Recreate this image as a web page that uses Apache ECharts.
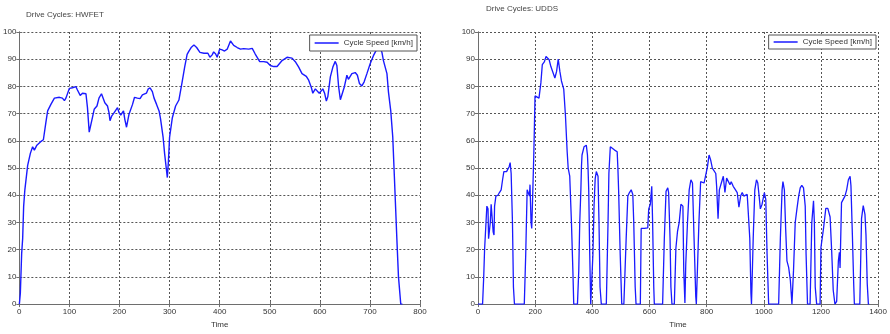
<!DOCTYPE html>
<html>
<head>
<meta charset="utf-8">
<script src="https://cdn.jsdelivr.net/npm/echarts@6.0.0/dist/echarts.min.js"></script>
<style>
  html, body { margin: 0; padding: 0; background: #fff; }
  #chart { width: 890px; height: 334px; }
</style>
</head>
<body>
<div id="chart"></div>
<script>
// HWFET cycle (time s, speed km/h)
const hwfetTime = [0, 2, 4.6, 6.6, 8.6, 11, 16.6, 22, 26.5, 30, 32, 35, 42, 48, 53, 56.5, 63, 70, 73, 80, 86, 90, 93, 100, 106, 113, 116, 121.5, 126, 133, 136, 139.5, 143, 146, 149.4, 155, 159, 164, 167, 170.7, 176, 179, 181, 184.6, 188, 190.6, 196, 199, 202.5, 208, 210.5, 214, 219, 226, 230, 235.7, 241, 245.7, 253.7, 257, 261, 265.6, 269, 274, 279, 282, 287, 290, 295.5, 297.5, 300, 305.5, 312, 318.6, 325, 330, 335, 338.6, 343, 348.6, 354, 360.6, 368.5, 376.5, 380.5, 385, 388, 392, 395, 400, 405, 409.7, 415, 421.6, 428, 435, 441.6, 448, 458, 465, 471, 480, 488, 494.7, 501, 508, 514.6, 524.6, 534.5, 544.5, 551, 557.8, 564.4, 573, 577.7, 583, 586, 591, 594, 598.8, 602, 606, 609.5, 613, 616, 621, 626, 630.8, 634, 637.5, 641, 644, 649, 654, 657, 664, 670.6, 675, 679, 684, 688.5, 694, 700.5, 707, 713.8, 718.5, 724, 727, 734, 737, 741.6, 745.6, 748.8, 753.7, 757, 761.6, 765];
const hwfetSpeed = [0, 4, 18.5, 24, 36, 42, 51, 55.4, 57.8, 56.6, 56, 58.4, 59.6, 60.4, 66.8, 71, 73.4, 75.7, 76, 76, 75.7, 74.8, 75.7, 79.3, 79.5, 79.9, 78.7, 76.7, 77.5, 77.3, 72.2, 63.2, 63.2, 68.6, 71.6, 72.8, 75.7, 77.3, 76.6, 74, 72.8, 70.4, 67.4, 69.2, 70, 69.5, 72.2, 70.4, 69.5, 71, 68, 65, 69.8, 73.4, 76, 75.7, 75.5, 76.9, 77.5, 79, 79.5, 78.1, 75.7, 73.4, 71, 68, 61.4, 55.4, 46.5, 52, 61.4, 68.5, 72.8, 75, 81.6, 87, 91.8, 93, 94.3, 95.2, 94.3, 92.5, 92.2, 92.2, 90.7, 91.6, 92.7, 91.9, 90.7, 93.7, 93.4, 93, 93.7, 96.7, 95.1, 94.3, 93.7, 93.9, 93.7, 94, 91.9, 89.1, 89.1, 88.9, 87.7, 87.3, 87.3, 89.5, 90.7, 90.4, 89.1, 87.1, 84.7, 83.7, 82.3, 79.6, 77.5, 79.1, 78.7, 77.5, 77.3, 79.1, 77.5, 74.6, 76.3, 83.5, 87.1, 89.2, 87.7, 79.9, 75.1, 75.7, 79.9, 84.1, 82.6, 84.7, 85.1, 84.1, 81.1, 80.2, 81.7, 84.7, 88.3, 91.3, 93.7, 95.5, 92.5, 89.5, 84.7, 78, 71, 61.4, 47, 24.4, 10.1, 0, 0];

// UDDS cycle
const uddsTime = [0, 16, 20, 23, 28, 31, 35, 37, 40.6, 43, 46, 50, 53, 56, 58, 62.6, 69.6, 75, 81, 86, 90.5, 95, 100, 104, 109, 112.5, 116, 120.6, 124, 127.6, 162, 167, 172, 176, 180, 182, 185.6, 188, 191, 195, 197, 199.5, 205, 213.4, 220, 225, 232, 238, 243.6, 249, 255, 261, 269, 275, 280.7, 286.5, 292, 300, 306, 312, 315.5, 321, 327, 332, 335, 348, 352.6, 356, 360, 362, 364, 371, 379, 383, 385, 387.4, 391, 394.4, 398, 402, 406, 410, 414, 420, 423.4, 427, 431.5, 449, 455, 458, 463, 468.6, 478, 487, 489.5, 492, 497.6, 503, 510.4, 518.5, 524.3, 530, 536, 541.7, 545, 550, 553, 568, 571, 576.5, 582, 588, 594, 597.4, 603, 608, 611, 615, 617, 646, 652, 658, 664, 667, 672, 675, 678.6, 687, 692.5, 698, 704, 710, 713, 717, 720, 724, 727, 733, 739, 745, 750.5, 756, 762, 764, 768, 773, 779, 785, 791, 797, 803, 807.4, 808.5, 814, 820, 823.6, 832, 835, 840, 844.5, 851.4, 858.4, 864, 870, 876, 881.6, 886, 893, 901, 907, 913, 919, 924.5, 930, 936, 942, 948, 951, 955, 957, 963, 968.6, 974.4, 979, 983.7, 988, 994, 997.6, 1002, 1007, 1011.5, 1017, 1052, 1058, 1064, 1067, 1072, 1076.5, 1081, 1087, 1093, 1098.5, 1104, 1110, 1116, 1122, 1127.5, 1133, 1139, 1145, 1148, 1153, 1162, 1168, 1174, 1177, 1180, 1185, 1197, 1200, 1209, 1217, 1224, 1232, 1237.6, 1243, 1249, 1255, 1261, 1264.6, 1266.9, 1272, 1278, 1284, 1290, 1296, 1302, 1305, 1310, 1314.6, 1317, 1336, 1342, 1348, 1354, 1357.6, 1362, 1366, 1369];
const uddsSpeed = [0, 0, 10, 20, 30, 36, 35, 24, 24, 30, 36.7, 36, 26.6, 25.4, 36, 39.7, 40, 41, 42, 45.7, 48.7, 49.3, 48.7, 49.5, 50.5, 52, 48, 30, 6.3, 0, 0, 18.3, 42, 42.7, 39.7, 43.9, 30, 27.8, 38.5, 54, 63.3, 76.5, 76, 75.7, 81.3, 88, 89, 91, 91.3, 89.8, 87.3, 86.7, 83.1, 85.5, 90, 85.5, 82, 79, 69.3, 56, 50, 47, 30, 12.3, 0, 0, 12.3, 30, 42, 50.5, 54.8, 57.8, 58.4, 54.8, 50, 42, 18.3, 0, 0, 18, 36, 46, 48.7, 47, 30, 6.3, 0, 0, 30, 48, 57.8, 57.2, 56.6, 56, 50, 42, 18.3, 0, 0, 24.2, 39.7, 41, 42, 40.3, 30, 6.3, 0, 0, 27.8, 28.4, 27.8, 27.2, 28, 35, 36.7, 43.3, 30, 6.3, 0, 0, 24.2, 41.5, 42.7, 41, 24.2, 6.3, 0, 0, 20.6, 26.6, 30, 36.7, 37.3, 36, 12.3, 0.4, 14.7, 30, 42, 45.7, 44.5, 24.2, 2.7, 0, 0, 30, 45, 45.7, 44.5, 45, 50.5, 54, 54.8, 53, 50, 49.9, 48, 43.3, 31.4, 42, 44.5, 47, 41, 46.3, 47, 43.9, 45, 43.3, 42, 41, 35.6, 39.7, 41, 39.7, 39.1, 40.3, 39.7, 24.2, 4, 0, 24.2, 42, 45.7, 44.5, 39.7, 35, 36.7, 37.3, 41, 38.5, 18.3, 0, 0, 24.2, 42, 45, 42, 27.8, 15.9, 13.5, 8.7, 0, 12.3, 30, 35, 39.7, 42.7, 43.6, 42.7, 36, 18.3, 0, 0, 30, 38, 30, 6.3, 0, 0, 20.8, 27.8, 35.2, 35.2, 32, 19.4, 5.1, 0, 1, 15.9, 19, 13.3, 37.3, 38.5, 39.7, 42, 45.7, 47, 43.5, 25.4, 7.5, 0, 0, 31.4, 36.2, 33, 25.4, 7.5, 0, 0];

const titles = ['Drive Cycles: HWFET', 'Drive Cycles: UDDS'];
const seriesName = 'Cycle Speed [km/h]';
const xMax = [800, 1400];
const xStep = [100, 200];

const FONT = 'Liberation Sans, Arial, sans-serif';
const axisColor = '#6e6e6e';
const labelStyle = { fontSize: 8, color: '#333', fontFamily: FONT };

function mainX(i) {
  return {
    type: 'value', gridIndex: i, min: 0, max: xMax[i], interval: xStep[i],
    name: 'Time', nameLocation: 'middle', nameGap: 13,
    nameTextStyle: labelStyle,
    axisLine: { lineStyle: { color: axisColor } },
    axisTick: { inside: true, length: 3, lineStyle: { color: axisColor } },
    axisLabel: Object.assign({ margin: 4, formatter: (v) => String(v) }, labelStyle),
    splitLine: { show: true, lineStyle: { color: '#555', type: [2, 2], width: 1 } }
  }
}
function mainY(i) {
  return {
    type: 'value', gridIndex: i, min: 0, max: 100, interval: 10,
    axisLine: { show: true, lineStyle: { color: axisColor } },
    axisTick: { show: true, inside: true, length: 3, lineStyle: { color: axisColor } },
    axisLabel: Object.assign({ margin: 3 }, labelStyle),
    splitLine: { show: true, lineStyle: { color: '#555', type: [2, 2], width: 1 } }
  }
}
// mirrored box axes (ticks only) like a matlab figure
function boxX(i) {
  return {
    type: 'value', gridIndex: i, position: 'top', min: 0, max: xMax[i], interval: xStep[i],
    axisLine: { lineStyle: { color: axisColor } },
    axisTick: { inside: true, length: 3, lineStyle: { color: axisColor } },
    axisLabel: { show: false }, splitLine: { show: false }
  }
}
function boxY(i) {
  return {
    type: 'value', gridIndex: i, position: 'right', min: 0, max: 100, interval: 10,
    axisLine: { show: true, lineStyle: { color: axisColor } },
    axisTick: { show: true, inside: true, length: 3, lineStyle: { color: axisColor } },
    axisLabel: { show: false }, splitLine: { show: false }
  }
}

const chart = echarts.init(document.getElementById('chart'))

chart.setOption({
  backgroundColor: '#fff',
  animation: false,
  title: [
    { text: titles[0], left: 21, top: 6, textStyle: { fontSize: 8, fontWeight: 'normal', color: '#444', fontFamily: FONT } },
    { text: titles[1], left: 481, top: 0, textStyle: { fontSize: 8, fontWeight: 'normal', color: '#444', fontFamily: FONT } }
  ],
  legend: [
    {
      data: [seriesName], right: 473, top: 35,
      icon: 'rect', itemWidth: 24, itemHeight: 1.5, itemGap: 0,
      padding: [4, 4, 4, 5], borderColor: '#555', borderWidth: 1, borderRadius: 0,
      backgroundColor: '#fff', textStyle: labelStyle, selectedMode: false
    },
    {
      data: [seriesName], right: 14, top: 35,
      icon: 'rect', itemWidth: 24, itemHeight: 1.5, itemGap: 0,
      padding: [3, 4, 3, 5], borderColor: '#555', borderWidth: 1, borderRadius: 0,
      backgroundColor: '#fff', textStyle: labelStyle, selectedMode: false
    }
  ],
  grid: [
    { left: 18, top: 32, width: 402, height: 280 },
    { left: 478, top: 32, width: 402, height: 279 }
  ],
  xAxis: [mainX(0), mainX(1), boxX(0), boxX(1)],
  yAxis: [mainY(0), mainY(1), boxY(0), boxY(1)],
  series: [
    {
      name: seriesName, type: 'line', xAxisIndex: 0, yAxisIndex: 0,
      showSymbol: false, symbol: 'none',
      lineStyle: { color: '#1a1aff', width: 1.4 }, itemStyle: { color: '#1a1aff' },
      data: hwfetTime.map((t, k) => [t, hwfetSpeed[k]])
    },
    {
      name: seriesName, type: 'line', xAxisIndex: 1, yAxisIndex: 1,
      showSymbol: false, symbol: 'none',
      lineStyle: { color: '#1a1aff', width: 1.3 }, itemStyle: { color: '#1a1aff' },
      data: uddsTime.map((t, k) => [t, uddsSpeed[k]])
    }
  ]
})

window.addEventListener('resize', () => chart.resize())
</script>
</body>
</html>
